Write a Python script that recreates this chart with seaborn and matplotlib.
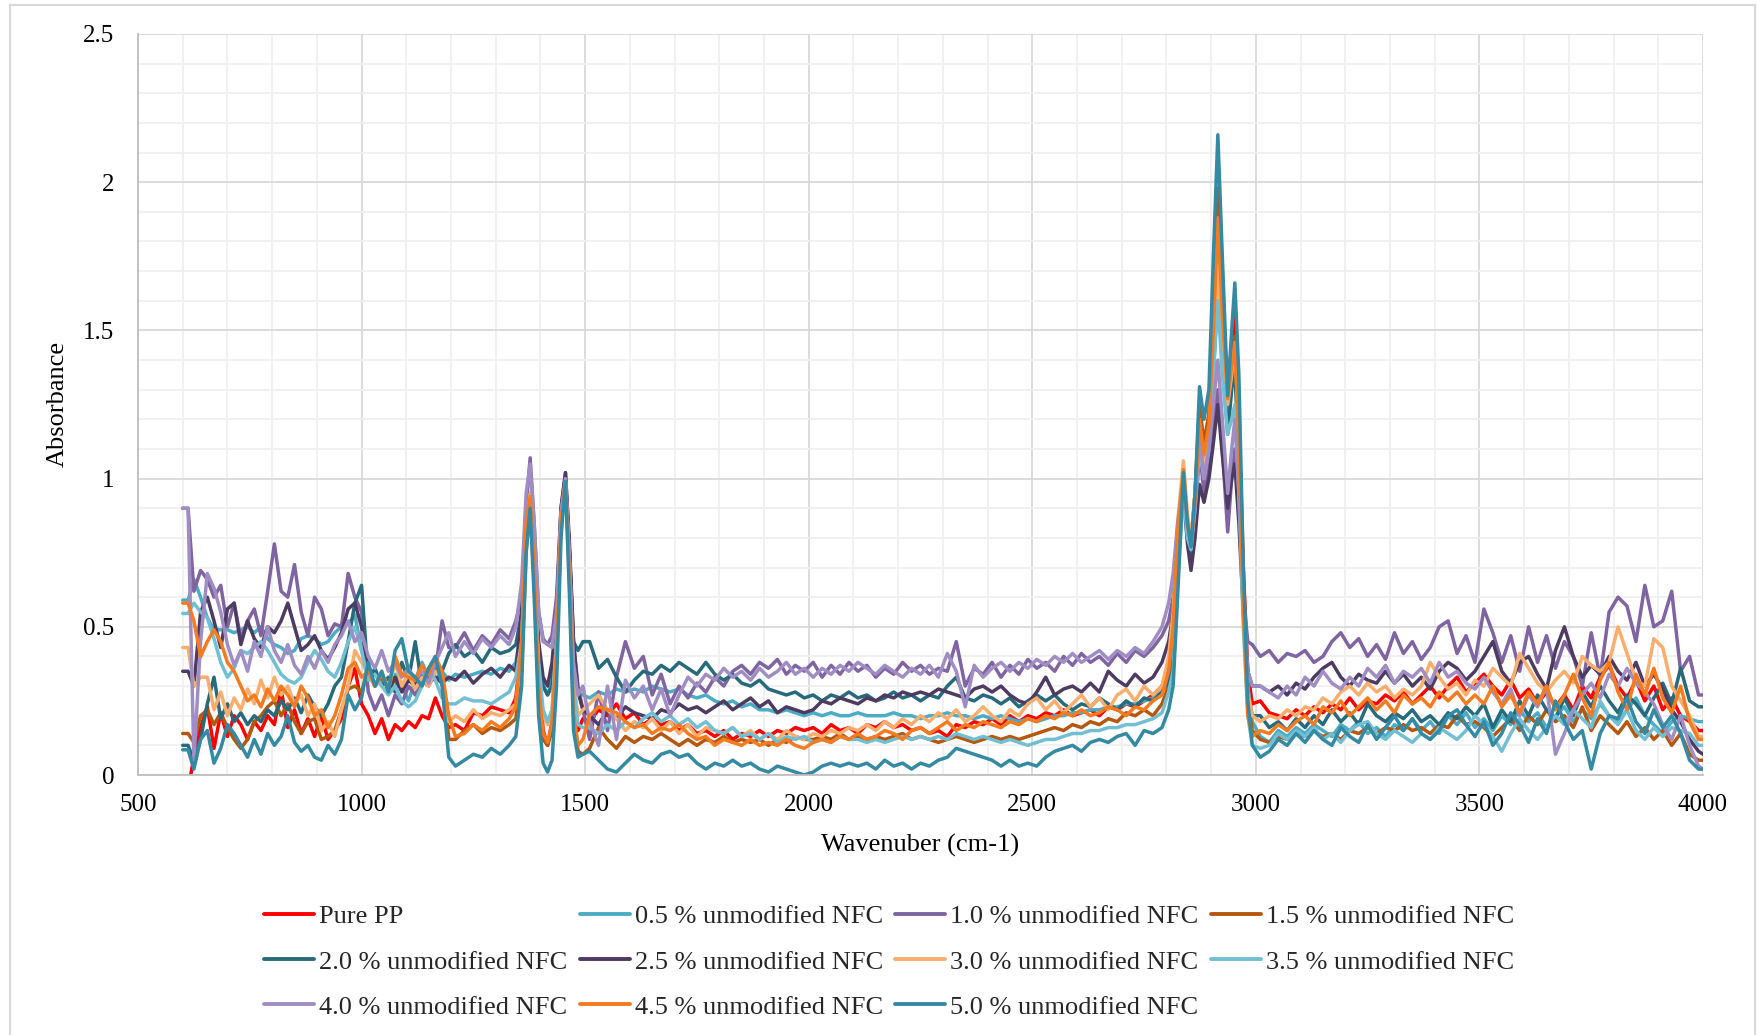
import numpy as np
import pandas as pd
import matplotlib
matplotlib.use("Agg")
import matplotlib.pyplot as plt
from matplotlib.lines import Line2D
from matplotlib.patches import Rectangle
from matplotlib.ticker import MultipleLocator, FixedLocator
import seaborn as sns

# ---------------- data ----------------
wavenumber = [
    600, 612, 625, 640, 655, 670, 685, 700, 715, 730,
    745, 760, 775, 790, 805, 820, 835, 850, 865, 880,
    895, 910, 925, 940, 955, 970, 985, 1000, 1015, 1030,
    1045, 1060, 1075, 1090, 1105, 1120, 1135, 1150, 1165, 1180,
    1195,
    1210, 1230, 1250, 1270, 1290, 1310, 1330, 1345,
    1358, 1368, 1377, 1386, 1396, 1406, 1416, 1426, 1436, 1446, 1456, 1465, 1474, 1484, 1495,
    1510, 1530, 1550, 1570, 1590, 1610, 1630, 1650, 1670, 1690,
    1710, 1730, 1750, 1770, 1790, 1810, 1830, 1850, 1870, 1890,
    1910, 1930, 1950, 1970, 1990, 2010, 2030, 2050, 2070, 2090,
    2110, 2130, 2150, 2170, 2190, 2210, 2230, 2250, 2270, 2290,
    2310, 2330, 2350, 2370, 2390, 2410, 2430, 2450, 2470, 2490,
    2510, 2530, 2550, 2570, 2590, 2610, 2630, 2650, 2670, 2690,
    2710, 2730, 2750, 2770, 2790,
    2805, 2815, 2825, 2838, 2847, 2855, 2864, 2874, 2884, 2895,
    2905, 2915, 2925, 2937, 2946, 2953, 2962, 2972, 2982, 2992,
    3010, 3030, 3050, 3070, 3090, 3110, 3130, 3150, 3170, 3190,
    3210, 3230, 3250, 3270, 3290, 3310, 3330, 3350, 3370, 3390,
    3410, 3430, 3450, 3470, 3490, 3510, 3530, 3550, 3570, 3590,
    3610, 3630, 3650, 3670, 3690, 3710, 3730, 3750, 3770, 3790,
    3810, 3830, 3850, 3870, 3890, 3910, 3930, 3950, 3970, 3990,
    4000,
]

pure_pp = [
    -0.05, -0.05, 0.06, 0.16, 0.23, 0.09, 0.21, 0.13, 0.2, 0.17,
    0.12, 0.18, 0.15, 0.2, 0.17, 0.29, 0.16, 0.22, 0.14, 0.19,
    0.13, 0.2, 0.12, 0.15, 0.19, 0.3, 0.36, 0.24, 0.2, 0.14,
    0.19, 0.12, 0.17, 0.15, 0.18, 0.16, 0.2, 0.19, 0.26, 0.2,
    0.16,
    0.17, 0.15, 0.21, 0.2, 0.23, 0.22, 0.21, 0.26,
    0.45, 0.8, 0.93, 0.75, 0.35, 0.15, 0.1, 0.18, 0.45, 0.85, 0.99, 0.7, 0.3, 0.15, 0.19,
    0.18, 0.22, 0.2, 0.24, 0.19, 0.21, 0.17, 0.19, 0.17, 0.18,
    0.15, 0.17, 0.14, 0.15, 0.13, 0.15, 0.12, 0.14, 0.13, 0.15,
    0.13, 0.15, 0.14, 0.16, 0.15, 0.16, 0.14, 0.17, 0.15, 0.16,
    0.14, 0.17, 0.16, 0.18, 0.16, 0.17, 0.15, 0.16, 0.14, 0.15,
    0.13, 0.17, 0.16, 0.18, 0.17, 0.19, 0.17, 0.2, 0.18, 0.2,
    0.19, 0.21, 0.2, 0.22, 0.2, 0.21, 0.22, 0.2, 0.23, 0.22,
    0.24, 0.23, 0.25, 0.27, 0.3,
    0.36, 0.45, 0.75, 1.0, 0.85, 0.78, 0.95, 1.22, 1.1, 1.2,
    1.5, 1.9, 1.6, 1.3, 1.45, 1.55, 1.2, 0.7, 0.35, 0.24,
    0.25, 0.21, 0.2, 0.19, 0.22, 0.2, 0.23, 0.21, 0.24, 0.22,
    0.26, 0.22, 0.25, 0.24, 0.27, 0.25, 0.28, 0.24, 0.27, 0.3,
    0.26, 0.3, 0.33, 0.28, 0.31, 0.34, 0.3, 0.27, 0.32, 0.26,
    0.29, 0.24, 0.28, 0.23, 0.27, 0.22, 0.3, 0.26, 0.33, 0.37,
    0.3, 0.26, 0.32, 0.25, 0.3, 0.22, 0.26, 0.2, 0.18, 0.15,
    0.15,
]

nfc_05 = [
    0.59, 0.59, 0.66, 0.6, 0.53, 0.49, 0.49, 0.49, 0.48, 0.49,
    0.5, 0.48, 0.5, 0.46, 0.44, 0.43, 0.41, 0.42, 0.46, 0.47,
    0.46, 0.44, 0.45, 0.48, 0.5, 0.51, 0.54, 0.42, 0.34, 0.3,
    0.33, 0.29, 0.34, 0.3, 0.25, 0.32, 0.38, 0.33, 0.36, 0.35,
    0.32,
    0.34, 0.33, 0.34, 0.35, 0.34, 0.36, 0.35, 0.38,
    0.5, 0.82, 0.93, 0.75, 0.42, 0.3, 0.27, 0.32, 0.55, 0.88, 0.99, 0.75, 0.4, 0.28, 0.27,
    0.26, 0.28, 0.27, 0.29, 0.28, 0.29, 0.28, 0.3, 0.29, 0.28,
    0.29, 0.27, 0.26, 0.27, 0.25, 0.24, 0.25, 0.23, 0.24, 0.22,
    0.22, 0.21, 0.22, 0.21, 0.2, 0.21, 0.2, 0.21, 0.2, 0.2,
    0.21, 0.2, 0.2, 0.2, 0.21, 0.2, 0.2, 0.19, 0.2, 0.2,
    0.21, 0.2, 0.2, 0.19, 0.2, 0.19, 0.2, 0.19, 0.18, 0.19,
    0.18, 0.19, 0.2, 0.2, 0.21, 0.21, 0.22, 0.22, 0.23, 0.23,
    0.24, 0.24, 0.25, 0.26, 0.28,
    0.33, 0.4, 0.7, 0.98, 0.82, 0.76, 0.93, 1.15, 1.05, 1.12,
    1.4, 1.75, 1.45, 1.2, 1.32, 1.4, 1.1, 0.6, 0.3, 0.18,
    0.13, 0.11, 0.15, 0.13, 0.16, 0.14, 0.17, 0.15, 0.13, 0.17,
    0.15, 0.18, 0.14, 0.16, 0.13, 0.17, 0.15, 0.19, 0.15, 0.18,
    0.14, 0.2, 0.17, 0.21, 0.16, 0.19, 0.15, 0.2, 0.17, 0.22,
    0.18, 0.21, 0.16, 0.2, 0.23, 0.18, 0.22, 0.19, 0.24, 0.2,
    0.18, 0.22, 0.26, 0.2, 0.17, 0.14, 0.18, 0.2, 0.19, 0.18,
    0.18,
]

nfc_10 = [
    0.9, 0.9, 0.62, 0.69, 0.66, 0.6, 0.64, 0.5, 0.58, 0.46,
    0.52, 0.56, 0.47, 0.62, 0.78, 0.62, 0.6, 0.71, 0.55, 0.47,
    0.6, 0.56, 0.47, 0.51, 0.5, 0.68, 0.6, 0.55, 0.28, 0.22,
    0.27, 0.2, 0.27, 0.24, 0.3, 0.27, 0.32, 0.3, 0.35, 0.52,
    0.43,
    0.43, 0.48, 0.42, 0.47, 0.44, 0.49, 0.46, 0.52,
    0.6, 0.9, 1.07, 0.85, 0.55, 0.46, 0.44, 0.47, 0.6, 0.9, 1.02, 0.75, 0.45, 0.3, 0.22,
    0.12, 0.28, 0.15, 0.33, 0.45, 0.36, 0.4, 0.27, 0.34, 0.24,
    0.3, 0.26, 0.31, 0.28, 0.33, 0.3, 0.35, 0.37, 0.34, 0.38,
    0.36, 0.39, 0.34, 0.37, 0.35, 0.38, 0.33, 0.37, 0.34, 0.38,
    0.35, 0.37, 0.33, 0.36, 0.34, 0.38, 0.35, 0.37, 0.34, 0.36,
    0.35, 0.45, 0.3, 0.36, 0.34, 0.38, 0.33, 0.37, 0.34, 0.39,
    0.36, 0.38, 0.35, 0.4, 0.37, 0.41, 0.38, 0.4, 0.37, 0.41,
    0.38, 0.42, 0.4, 0.43, 0.47,
    0.52, 0.6, 0.8, 1.0, 0.82, 0.72, 0.85, 1.1, 0.95, 1.05,
    1.18, 1.3, 1.1, 0.82, 1.0, 1.1, 0.9, 0.6, 0.45, 0.44,
    0.4, 0.42, 0.38, 0.41, 0.4, 0.42, 0.38, 0.4, 0.45, 0.48,
    0.43, 0.46, 0.4, 0.44, 0.39, 0.48, 0.41, 0.45, 0.39, 0.43,
    0.5, 0.52, 0.41, 0.47, 0.38, 0.56, 0.48, 0.38, 0.47, 0.35,
    0.5, 0.38, 0.47, 0.36, 0.45, 0.4, 0.3, 0.48, 0.33, 0.55,
    0.6, 0.57, 0.45, 0.64, 0.5, 0.52, 0.62, 0.35, 0.4, 0.27,
    0.27,
]

nfc_15 = [
    0.14, 0.14, 0.11, 0.2, 0.22, 0.17, 0.21, 0.16, 0.12, 0.09,
    0.12, 0.18, 0.2, 0.23, 0.25, 0.2, 0.24, 0.18, 0.14, 0.18,
    0.19, 0.12, 0.13, 0.15, 0.22, 0.29, 0.3, 0.28, 0.36, 0.3,
    0.33, 0.29, 0.32, 0.3, 0.34, 0.31, 0.35, 0.32, 0.36, 0.35,
    0.12,
    0.12, 0.15, 0.17, 0.14, 0.16, 0.15, 0.17, 0.19,
    0.35, 0.75, 0.92, 0.65, 0.25, 0.12, 0.1, 0.15, 0.4, 0.85, 1.0, 0.7, 0.25, 0.08, 0.07,
    0.09, 0.16, 0.12, 0.09, 0.13, 0.11, 0.13, 0.12, 0.14, 0.12,
    0.1, 0.12, 0.1, 0.12, 0.11, 0.13, 0.11, 0.12, 0.11, 0.12,
    0.1, 0.12, 0.11, 0.13, 0.12, 0.12, 0.13, 0.12, 0.14, 0.12,
    0.13, 0.12, 0.13, 0.12, 0.13, 0.14, 0.12, 0.13, 0.12, 0.11,
    0.12, 0.13, 0.12, 0.11, 0.12, 0.13, 0.12, 0.13, 0.12, 0.13,
    0.14, 0.15, 0.16, 0.15, 0.17, 0.16, 0.18, 0.17, 0.19, 0.18,
    0.21, 0.2, 0.22, 0.2, 0.24,
    0.3, 0.4, 0.72, 1.0, 0.84, 0.78, 0.95, 1.25, 1.12, 1.22,
    1.55, 1.98, 1.65, 1.25, 1.38, 1.48, 1.15, 0.6, 0.25, 0.15,
    0.12, 0.11, 0.13, 0.12, 0.14, 0.13, 0.15, 0.13, 0.14, 0.12,
    0.15, 0.14, 0.16, 0.14, 0.16, 0.15, 0.17, 0.15, 0.16, 0.14,
    0.17, 0.16, 0.2, 0.17, 0.18, 0.16, 0.13, 0.16, 0.19, 0.15,
    0.2, 0.17, 0.22, 0.18, 0.2, 0.16, 0.23, 0.15, 0.2, 0.17,
    0.14, 0.18, 0.13, 0.16, 0.12, 0.15, 0.1, 0.14, 0.07, 0.05,
    0.05,
]

nfc_20 = [
    0.1, 0.1, 0.05, 0.12, 0.24, 0.33, 0.19, 0.24, 0.18, 0.21,
    0.17, 0.2, 0.18, 0.22, 0.2, 0.25, 0.22, 0.26, 0.21, 0.27,
    0.23, 0.2, 0.24, 0.3, 0.33, 0.45, 0.58, 0.64, 0.32, 0.36,
    0.3, 0.33, 0.28, 0.38, 0.32, 0.45, 0.3, 0.36, 0.32, 0.35,
    0.41,
    0.44, 0.4, 0.42, 0.38, 0.43, 0.41, 0.42, 0.44,
    0.55, 0.85, 0.95, 0.7, 0.4, 0.3, 0.27, 0.3, 0.5, 0.88, 0.99, 0.75, 0.45, 0.42, 0.45,
    0.45, 0.36, 0.39, 0.33, 0.28, 0.32, 0.35, 0.34, 0.37, 0.35,
    0.38, 0.36, 0.34, 0.38, 0.34, 0.32, 0.34, 0.31, 0.3, 0.32,
    0.29, 0.28, 0.27, 0.28, 0.26, 0.27, 0.25, 0.27, 0.26, 0.28,
    0.26, 0.27, 0.25, 0.26, 0.28, 0.26, 0.27, 0.25, 0.27, 0.26,
    0.3, 0.33, 0.26, 0.25, 0.27, 0.26, 0.24, 0.26, 0.23, 0.25,
    0.27, 0.25, 0.27, 0.24, 0.22, 0.24, 0.23, 0.26, 0.24, 0.22,
    0.25, 0.23, 0.26, 0.25, 0.28,
    0.32, 0.42, 0.72, 0.98, 0.8, 0.74, 0.9, 1.12, 1.02, 1.1,
    1.35, 1.65, 1.4, 1.15, 1.3, 1.38, 1.05, 0.55, 0.28, 0.2,
    0.2, 0.16, 0.18, 0.15, 0.19, 0.16, 0.2, 0.17, 0.22, 0.18,
    0.21, 0.17, 0.24, 0.2, 0.18, 0.21, 0.19, 0.22, 0.18, 0.2,
    0.17, 0.21, 0.19, 0.23, 0.2, 0.24, 0.16, 0.22, 0.18, 0.25,
    0.2, 0.27, 0.22, 0.19, 0.26, 0.2, 0.28, 0.23, 0.3, 0.25,
    0.21, 0.27, 0.24, 0.2, 0.26, 0.31, 0.24, 0.36, 0.25, 0.23,
    0.23,
]

nfc_25 = [
    0.35, 0.35, 0.3, 0.55, 0.6, 0.52, 0.43, 0.56, 0.58, 0.44,
    0.52, 0.46, 0.43, 0.5, 0.48, 0.52, 0.58, 0.5, 0.42, 0.44,
    0.47, 0.42, 0.39, 0.43, 0.48, 0.56, 0.58, 0.5, 0.35, 0.3,
    0.34, 0.29, 0.33, 0.28, 0.32, 0.3, 0.34, 0.31, 0.33, 0.31,
    0.33,
    0.32, 0.35, 0.31, 0.34, 0.36, 0.33, 0.37, 0.35,
    0.55, 0.8, 0.94, 0.72, 0.45, 0.33, 0.3, 0.38, 0.55, 0.9, 1.02, 0.78, 0.45, 0.28, 0.22,
    0.2, 0.17, 0.22, 0.19, 0.23, 0.21, 0.2, 0.19, 0.22, 0.21,
    0.24, 0.22, 0.23, 0.21, 0.23, 0.25, 0.22, 0.24, 0.26, 0.23,
    0.25, 0.21, 0.23, 0.22, 0.21, 0.22, 0.25, 0.24, 0.26, 0.25,
    0.24, 0.26, 0.25, 0.27, 0.26, 0.28, 0.27, 0.28, 0.27, 0.29,
    0.28, 0.27, 0.26, 0.29, 0.3, 0.28, 0.3, 0.27, 0.25, 0.24,
    0.28, 0.33, 0.27, 0.29, 0.3, 0.28, 0.31, 0.28, 0.35, 0.32,
    0.3, 0.34, 0.31, 0.33, 0.38,
    0.45, 0.55, 0.78, 0.95, 0.78, 0.69, 0.8, 0.98, 0.92, 1.0,
    1.12, 1.25, 1.08, 0.9, 1.0, 1.05, 0.85, 0.55, 0.35, 0.3,
    0.3, 0.28, 0.3, 0.27, 0.31, 0.29, 0.33, 0.36, 0.38, 0.33,
    0.3, 0.34, 0.32, 0.31, 0.35, 0.31, 0.34, 0.3, 0.33, 0.29,
    0.35, 0.38, 0.36, 0.32, 0.35, 0.4, 0.45, 0.35, 0.31, 0.38,
    0.4, 0.34, 0.29, 0.42, 0.5, 0.4, 0.33, 0.37, 0.34, 0.4,
    0.35, 0.32, 0.38, 0.3, 0.34, 0.29, 0.22, 0.18, 0.12, 0.08,
    0.07,
]

nfc_30 = [
    0.43, 0.43, 0.3, 0.33, 0.33, 0.22, 0.28, 0.2, 0.26, 0.22,
    0.29, 0.24, 0.32, 0.26, 0.33, 0.27, 0.3, 0.24, 0.27, 0.2,
    0.24, 0.15, 0.18, 0.13, 0.22, 0.3, 0.42, 0.38, 0.34, 0.3,
    0.35, 0.29, 0.38, 0.3, 0.34, 0.29, 0.33, 0.3, 0.35, 0.33,
    0.18,
    0.2, 0.18, 0.22, 0.19, 0.21, 0.2, 0.22, 0.24,
    0.42, 0.85, 0.95, 0.7, 0.35, 0.2, 0.17, 0.22, 0.45, 0.88, 0.99, 0.72, 0.32, 0.2, 0.22,
    0.24, 0.27, 0.22, 0.19, 0.15, 0.18, 0.16, 0.19, 0.15, 0.18,
    0.14, 0.17, 0.13, 0.16, 0.15, 0.14, 0.16, 0.13, 0.15, 0.12,
    0.14, 0.12, 0.15, 0.13, 0.12, 0.14, 0.13, 0.15, 0.14, 0.16,
    0.15, 0.17, 0.15, 0.18, 0.16, 0.19, 0.17, 0.2, 0.18, 0.21,
    0.19, 0.22, 0.18, 0.2, 0.23, 0.2, 0.18, 0.22, 0.2, 0.24,
    0.26, 0.22, 0.25, 0.21, 0.24, 0.27, 0.23, 0.26, 0.22, 0.27,
    0.29, 0.25, 0.3, 0.27, 0.3,
    0.4, 0.55, 0.85, 1.06, 0.88, 0.8, 0.95, 1.15, 1.05, 1.12,
    1.4, 1.72, 1.45, 1.25, 1.35, 1.45, 1.15, 0.6, 0.28, 0.2,
    0.18, 0.2, 0.19, 0.22, 0.2, 0.23, 0.22, 0.26, 0.24, 0.28,
    0.3, 0.27, 0.31, 0.28, 0.3, 0.26, 0.29, 0.27, 0.3, 0.38,
    0.33, 0.29, 0.31, 0.27, 0.32, 0.3, 0.36, 0.33, 0.3, 0.41,
    0.36, 0.31, 0.28, 0.32, 0.35, 0.31, 0.4, 0.37, 0.35, 0.38,
    0.5, 0.41, 0.32, 0.3, 0.46, 0.43, 0.3, 0.25, 0.2, 0.13,
    0.13,
]

nfc_35 = [
    0.545, 0.545, 0.58, 0.55, 0.53, 0.46, 0.38, 0.33, 0.36, 0.42,
    0.41, 0.43, 0.45, 0.42, 0.38, 0.34, 0.32, 0.31, 0.33, 0.38,
    0.42, 0.39, 0.35, 0.33, 0.38, 0.45, 0.5, 0.42, 0.32, 0.34,
    0.3, 0.27, 0.3, 0.25, 0.23, 0.25, 0.3, 0.36, 0.32, 0.26,
    0.24,
    0.24, 0.26, 0.25, 0.25, 0.24, 0.26, 0.28, 0.33,
    0.45, 0.8, 0.9, 0.7, 0.38, 0.22, 0.18, 0.22, 0.45, 0.86, 0.97, 0.7, 0.3, 0.17, 0.16,
    0.16, 0.14, 0.17, 0.15, 0.18, 0.16, 0.19, 0.21, 0.18, 0.2,
    0.17, 0.19, 0.16, 0.18, 0.15, 0.14, 0.16, 0.13, 0.14, 0.12,
    0.14, 0.11, 0.13, 0.12, 0.13, 0.11, 0.12, 0.11, 0.13, 0.12,
    0.12, 0.11, 0.12, 0.11, 0.12, 0.13, 0.12, 0.13, 0.12, 0.13,
    0.12, 0.14, 0.13, 0.12, 0.13, 0.12, 0.11, 0.12, 0.11, 0.1,
    0.11, 0.12, 0.12, 0.13, 0.14, 0.14, 0.15, 0.15, 0.16, 0.16,
    0.17, 0.17, 0.18, 0.19, 0.21,
    0.28, 0.35, 0.65, 0.95, 0.8, 0.76, 0.9, 1.1, 1.0, 1.1,
    1.35, 1.6, 1.35, 1.15, 1.2, 1.25, 0.95, 0.5, 0.2, 0.1,
    0.09, 0.1, 0.14, 0.12, 0.15, 0.13, 0.16, 0.12, 0.14, 0.11,
    0.15, 0.17, 0.18, 0.14, 0.12, 0.15, 0.13, 0.11, 0.14, 0.12,
    0.16, 0.14, 0.12, 0.15, 0.2, 0.17, 0.13, 0.08, 0.14, 0.19,
    0.15, 0.12, 0.16, 0.2, 0.17, 0.22, 0.19, 0.16, 0.25, 0.2,
    0.17, 0.22, 0.15, 0.12, 0.16, 0.13, 0.16, 0.15, 0.14, 0.1,
    0.1,
]

nfc_40 = [
    0.9, 0.9, 0.05, 0.45, 0.68, 0.63, 0.55, 0.44, 0.37, 0.42,
    0.35, 0.45, 0.4, 0.5, 0.42, 0.38, 0.44, 0.37, 0.34, 0.4,
    0.36, 0.42, 0.38, 0.44, 0.47, 0.52, 0.45, 0.48, 0.4, 0.36,
    0.42, 0.35, 0.38, 0.33, 0.36, 0.32, 0.35, 0.31, 0.38, 0.43,
    0.48,
    0.4, 0.45, 0.41, 0.46, 0.43, 0.47, 0.44, 0.5,
    0.65, 0.95, 1.05, 0.85, 0.55, 0.45, 0.44, 0.43, 0.55, 0.88, 1.0, 0.72, 0.38, 0.27, 0.3,
    0.18, 0.1, 0.3, 0.12, 0.32, 0.26, 0.3, 0.22, 0.29, 0.2,
    0.27, 0.33, 0.3, 0.34, 0.32, 0.36, 0.33, 0.35, 0.32, 0.36,
    0.33, 0.35, 0.38, 0.34, 0.36, 0.33, 0.36, 0.34, 0.37, 0.35,
    0.38, 0.36, 0.34, 0.37, 0.35, 0.33, 0.36, 0.34, 0.37, 0.33,
    0.41, 0.35, 0.23, 0.37, 0.33, 0.36, 0.38, 0.35, 0.38, 0.36,
    0.39, 0.37, 0.4, 0.38, 0.41, 0.38, 0.4, 0.42, 0.39, 0.42,
    0.4, 0.43, 0.41, 0.45, 0.5,
    0.58, 0.68, 0.85, 1.0, 0.85, 0.78, 0.9, 1.15, 1.0, 1.1,
    1.25, 1.4, 1.2, 0.95, 1.1, 1.2, 0.95, 0.6, 0.35, 0.3,
    0.3, 0.28, 0.26, 0.3, 0.27, 0.33, 0.3, 0.35, 0.31, 0.29,
    0.33, 0.3, 0.36, 0.33, 0.37, 0.31, 0.35, 0.33, 0.36, 0.31,
    0.38, 0.33, 0.35, 0.31, 0.29, 0.33, 0.28, 0.24, 0.29, 0.2,
    0.27, 0.23, 0.3, 0.07, 0.14, 0.22, 0.27, 0.31, 0.26, 0.34,
    0.3, 0.36, 0.31, 0.28, 0.24, 0.17, 0.12, 0.2, 0.1, 0.03,
    0.02,
]

nfc_45 = [
    0.58, 0.58, 0.52, 0.4, 0.45, 0.49, 0.45, 0.38, 0.35, 0.3,
    0.25, 0.27, 0.23, 0.29, 0.25, 0.3, 0.27, 0.23, 0.3, 0.26,
    0.2, 0.22, 0.16, 0.2, 0.27, 0.36, 0.38, 0.33, 0.35, 0.3,
    0.34, 0.29, 0.4, 0.34, 0.33, 0.32, 0.37, 0.34, 0.4, 0.35,
    0.2,
    0.13, 0.14, 0.17, 0.15, 0.18, 0.16, 0.19, 0.23,
    0.45, 0.85, 0.94, 0.7, 0.3, 0.14, 0.11, 0.18, 0.42, 0.85, 0.99, 0.65, 0.2, 0.1, 0.12,
    0.2, 0.23, 0.22, 0.21, 0.18, 0.16, 0.17, 0.14, 0.16, 0.15,
    0.17, 0.14, 0.12, 0.13, 0.1, 0.12, 0.11, 0.1, 0.12, 0.1,
    0.11, 0.1, 0.12, 0.1, 0.09, 0.11, 0.12, 0.11, 0.13, 0.12,
    0.14, 0.12, 0.13, 0.15, 0.14, 0.12, 0.15, 0.16, 0.14, 0.16,
    0.18, 0.15, 0.17, 0.16, 0.18, 0.17, 0.16, 0.18, 0.17, 0.19,
    0.18, 0.2, 0.19, 0.21, 0.2, 0.22, 0.2, 0.21, 0.23, 0.22,
    0.2, 0.23, 0.22, 0.25, 0.27,
    0.35, 0.5, 0.82, 1.03, 0.85, 0.78, 0.93, 1.2, 1.08, 1.18,
    1.5, 1.88, 1.55, 1.27, 1.38, 1.46, 1.12, 0.55, 0.2, 0.13,
    0.15, 0.14, 0.17, 0.15, 0.18, 0.2, 0.17, 0.23, 0.21, 0.25,
    0.2, 0.23, 0.26, 0.22, 0.25, 0.21, 0.27, 0.24, 0.26, 0.23,
    0.28, 0.25, 0.28, 0.24, 0.27, 0.24, 0.3, 0.23, 0.27, 0.21,
    0.28, 0.24, 0.3, 0.22, 0.27, 0.34, 0.26, 0.2, 0.32, 0.38,
    0.28, 0.22, 0.34, 0.27, 0.36, 0.26, 0.21, 0.3, 0.18, 0.12,
    0.12,
]

nfc_50 = [
    0.085, 0.085, 0.02, 0.12, 0.15, 0.04, 0.09, 0.17, 0.14, 0.1,
    0.06, 0.12, 0.07, 0.14, 0.1, 0.13, 0.2, 0.11, 0.08, 0.1,
    0.06, 0.05, 0.1, 0.07, 0.12, 0.27, 0.22, 0.26, 0.38, 0.3,
    0.35, 0.28, 0.42, 0.46, 0.35, 0.33, 0.3, 0.36, 0.4, 0.3,
    0.06,
    0.03, 0.05, 0.07, 0.06, 0.09, 0.07, 0.1, 0.13,
    0.3, 0.75, 0.9, 0.6, 0.2, 0.04, 0.01, 0.05, 0.3, 0.8, 0.99, 0.6, 0.15, 0.06, 0.07,
    0.08, 0.05, 0.02, 0.01, 0.04, 0.07, 0.05, 0.04, 0.07, 0.08,
    0.06, 0.07, 0.04, 0.02, 0.04, 0.03, 0.05, 0.03, 0.04, 0.02,
    0.01, 0.03, 0.02, 0.01, 0.0, 0.01, 0.03, 0.04, 0.03, 0.04,
    0.03, 0.04, 0.02, 0.05, 0.03, 0.04, 0.02, 0.04, 0.03, 0.05,
    0.06, 0.09, 0.08, 0.07, 0.06, 0.05, 0.03, 0.05, 0.03, 0.04,
    0.03, 0.06, 0.08, 0.09, 0.1, 0.08, 0.11, 0.12, 0.11, 0.13,
    0.14, 0.1, 0.15, 0.14, 0.16,
    0.22, 0.3, 0.6, 1.02, 0.85, 0.77, 0.95, 1.31, 1.2, 1.3,
    1.75, 2.16, 1.75, 1.28, 1.5, 1.66, 1.35, 0.7, 0.25, 0.1,
    0.06, 0.08, 0.12, 0.1, 0.14, 0.11, 0.15, 0.12, 0.1, 0.16,
    0.13, 0.11, 0.17, 0.12, 0.16, 0.2, 0.15, 0.19, 0.14, 0.12,
    0.15, 0.2, 0.22, 0.17, 0.13, 0.18, 0.1, 0.14, 0.21, 0.17,
    0.11, 0.19, 0.14, 0.25, 0.18, 0.12, 0.15, 0.02, 0.14, 0.2,
    0.19, 0.26, 0.18, 0.14, 0.22, 0.16, 0.2, 0.14, 0.05, 0.02,
    0.02,
]

series_names = [
    "Pure PP",
    "0.5 % unmodified NFC", "1.0 % unmodified NFC", "1.5 % unmodified NFC",
    "2.0 % unmodified NFC", "2.5 % unmodified NFC", "3.0 % unmodified NFC",
    "3.5 % unmodified NFC", "4.0 % unmodified NFC", "4.5 % unmodified NFC",
    "5.0 % unmodified NFC",
]
series_colors = [
    "#FF0000", "#4BACC6", "#8064A2", "#B5580F", "#276A7C", "#4E3B62",
    "#F9AE6E", "#72BFD4", "#A08DC3", "#F47B20", "#3489A3",
]
series_values = [pure_pp, nfc_05, nfc_10, nfc_15, nfc_20, nfc_25,
                 nfc_30, nfc_35, nfc_40, nfc_45, nfc_50]

x_ticks = [500, 1000, 1500, 2000, 2500, 3000, 3500, 4000]
x_tick_labels = ["500", "1000", "1500", "2000", "2500", "3000", "3500", "4000"]
y_ticks = [0, 0.5, 1, 1.5, 2, 2.5]
y_tick_labels = ["0", "0.5", "1", "1.5", "2", "2.5"]

# ---------------- style ----------------
sns.set_style("white")
plt.rcParams["font.family"] = ["Liberation Serif", "DejaVu Serif"]
FS = 18
LFS = 19

for n, v in zip(series_names, series_values):
    assert len(v) == len(wavenumber), (n, len(v), len(wavenumber))

df = pd.concat(
    [pd.DataFrame({"Wavenumber": wavenumber, "Absorbance": v, "Series": n})
     for n, v in zip(series_names, series_values)],
    ignore_index=True,
)
palette = dict(zip(series_names, series_colors))

W, H = 1758, 1035
fig = plt.figure(figsize=(W / 100, H / 100), dpi=100)
ax = fig.add_axes([138 / W, 1 - 775 / H, (1703 - 138) / W, (775 - 34) / H])

sns.lineplot(data=df, x="Wavenumber", y="Absorbance", hue="Series",
             hue_order=series_names, palette=palette, estimator=None,
             sort=False, linewidth=2.5, legend=False, ax=ax)

ax.set_xlim(500, 4000)
ax.set_ylim(0, 2.5)
ax.xaxis.set_major_locator(FixedLocator(x_ticks))
ax.yaxis.set_major_locator(FixedLocator(y_ticks))
ax.set_xticklabels(x_tick_labels)
ax.set_yticklabels(y_tick_labels)
ax.xaxis.set_minor_locator(MultipleLocator(100))
ax.yaxis.set_minor_locator(MultipleLocator(0.1))
ax.grid(which="major", color="#D9D9D9", linewidth=1.3, zorder=0)
ax.grid(which="minor", color="#F0F0F0", linewidth=1.3, zorder=0)
ax.set_axisbelow(True)
ax.tick_params(which="major", direction="out", length=5, width=1.2,
               color="#BFBFBF", labelsize=FS, labelcolor="black")
ax.tick_params(axis="y", pad=12)
ax.tick_params(axis="x", pad=9)
ax.tick_params(which="minor", length=0)
for s in ["top", "right"]:
    ax.spines[s].set_visible(False)
for s in ["left", "bottom"]:
    ax.spines[s].set_color("#BFBFBF")
    ax.spines[s].set_linewidth(1.3)
ax.set_xlabel("")
ax.set_ylabel("")

fig.text(920 / W, 1 - 845 / H, "Wavenuber (cm-1)", ha="center", va="center",
         fontsize=LFS, color="black")
fig.text(58 / W, 1 - 404 / H, "Absorbance", ha="center", va="center",
         rotation=90, fontsize=LFS, color="black")

# legend: row-wise order in 4 columns
order = [0, 4, 8, 1, 5, 9, 2, 6, 10, 3, 7]
handles = [Line2D([0], [0], color=series_colors[i], lw=2.8) for i in order]
labels = [series_names[i] for i in order]
fig.legend(handles, labels, ncol=4, loc="upper left",
           bbox_to_anchor=(264 / W, 1 - 905 / H), frameon=False,
           fontsize=LFS, handlelength=1.9, handletextpad=0.2,
           columnspacing=0.45, labelspacing=0.82, borderpad=0,
           borderaxespad=0)

fig.patches.append(Rectangle((10 / W, -0.02), (1755 - 10) / W, 1.02 - 5 / H,
                             transform=fig.transFigure, fill=False,
                             edgecolor="#D9D9D9", linewidth=1.5))

fig.savefig("out.png", dpi=100, facecolor="white")
